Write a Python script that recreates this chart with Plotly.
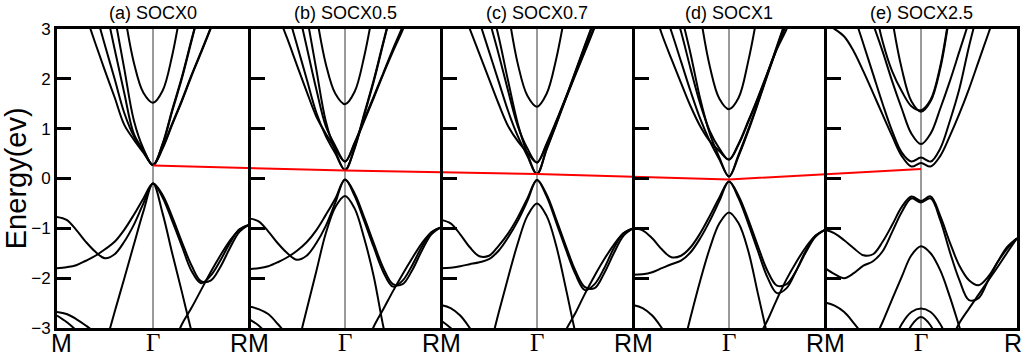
import plotly.graph_objects as go

N = None
# k-path grid inside each panel: M (0) -> Gamma (0.5) -> R (1)
K = [0.00, 0.05, 0.10, 0.15, 0.20, 0.25, 0.30, 0.35, 0.40, 0.45, 0.50,
     0.55, 0.60, 0.65, 0.70, 0.75, 0.80, 0.85, 0.90, 0.95, 1.00]

TITLES = ["(a) SOCX0", "(b) SOCX0.5", "(c) SOCX0.7", "(d) SOCX1", "(e) SOCX2.5"]
RED_E = [0.26, 0.16, 0.09, -0.02, 0.19]          # CBM marked by the red line
Y_TICKS = [-3, -2, -1, 0, 1, 2, 3]

# ---------------- panel (a) ----------------
A_C1 = [N,N,N,N,N,N,4.6,3.35,2.33,1.72,1.52,1.76,2.47,3.5,4.7,N,N,N,N,N,N]
A_C2 = [N,N,3.8,3.27,2.71,2.16,1.63,1.08,0.78,0.52,0.27,0.6,1.08,1.55,2.05,2.52,3.0,3.5,N,N,N]
A_C3 = [N,N,N,N,3.35,2.67,2.0,1.32,0.85,0.55,0.27,0.68,1.35,2.0,2.75,3.5,N,N,N,N,N]
A_C4 = [N,N,N,N,N,3.5,2.6,1.72,0.9,0.56,0.27,0.7,1.38,2.03,2.78,3.5,N,N,N,N,N]
A_C5 = [N,N,N,N,N,N,3.26,2.21,1.17,0.6,0.27,0.62,1.1,1.57,2.07,2.54,3.02,3.5,N,N,N]
A_V1 = [-0.77,-0.83,-1.03,-1.27,-1.47,-1.60,-1.52,-1.27,-0.93,-0.50,-0.10,-0.33,-0.77,-1.27,-1.74,-2.06,-2.05,-1.78,-1.40,-1.07,-0.93]
A_V2 = [-1.80,-1.78,-1.74,-1.65,-1.55,-1.42,-1.27,-1.03,-0.73,-0.40,-0.10,-0.38,-0.85,-1.35,-1.85,-2.10,-1.95,-1.65,-1.30,-1.02,-0.93]
A_V3 = [N,N,N,N,-4.0,-3.36,-2.68,-2.01,-1.33,-0.66,-0.10,-0.70,-1.50,-2.27,-3.06,-3.8,N,N,N,N,N]
A_V4 = [N,N,N,N,N,N,N,N,N,N,N,N,-3.4,-2.93,-2.6,-2.24,-1.88,-1.55,-1.25,-1.03,-0.93]
A_V5 = [-2.68,-2.72,-2.82,-2.95,-3.1,-3.3,N,N,N,N,N,N,N,N,N,N,N,N,N,N,N]
A_V6 = [-2.75,-2.88,-3.05,-3.3,N,N,N,N,N,N,N,N,N,N,N,N,N,N,N,N,N]
PANEL_A = [A_C1, A_C2, A_C3, A_C4, A_C5, A_V1, A_V2, A_V3, A_V4, A_V5, A_V6]

# ---------------- panel (b) ----------------
B_C1 = [N,N,N,N,N,N,4.5,3.3,2.3,1.7,1.49,1.74,2.45,3.45,4.6,N,N,N,N,N,N]
B_C2 = [N,N,3.85,3.3,2.8,2.27,1.75,1.25,0.9,0.6,0.34,0.7,1.15,1.62,2.1,2.55,2.98,3.45,N,N,N]
B_C3 = [N,N,N,N,3.35,2.68,2.0,1.33,0.85,0.5,0.17,0.62,1.3,1.98,2.75,3.5,N,N,N,N,N]
B_C4 = [N,N,N,N,N,3.5,2.65,1.8,1.05,0.65,0.34,0.72,1.18,1.65,2.12,2.6,3.05,3.55,N,N,N]
B_C5 = [N,N,N,N,N,N,3.28,2.2,1.15,0.55,0.17,0.6,1.27,1.95,2.72,3.48,N,N,N,N,N]
B_V1 = [-0.80,-0.86,-1.06,-1.30,-1.50,-1.63,-1.55,-1.30,-0.95,-0.48,-0.02,-0.30,-0.78,-1.30,-1.80,-2.12,-2.12,-1.84,-1.45,-1.12,-0.98]
B_V2 = [-1.82,-1.80,-1.76,-1.68,-1.58,-1.45,-1.28,-1.04,-0.73,-0.40,-0.02,-0.35,-0.85,-1.38,-1.88,-2.17,-2.05,-1.74,-1.37,-1.08,-0.98]
B_V3 = [N,N,N,N,-4.2,-3.41,-2.64,-1.87,-1.1,-0.57,-0.35,-0.6,-1.2,-1.97,-2.98,-3.8,N,N,N,N,N]
B_V4 = [N,N,N,N,N,N,N,N,N,N,N,N,-3.45,-2.97,-2.62,-2.26,-1.92,-1.6,-1.3,-1.08,-0.98]
B_V5 = [-2.57,-2.62,-2.72,-2.92,-3.15,N,N,N,N,N,N,N,N,N,N,N,N,N,N,N,N]
B_V6 = [-2.82,-2.95,-3.15,N,N,N,N,N,N,N,N,N,N,N,N,N,N,N,N,N,N]
PANEL_B = [B_C1, B_C2, B_C3, B_C4, B_C5, B_V1, B_V2, B_V3, B_V4, B_V5, B_V6]

# ---------------- panel (c) ----------------
C_C1 = [N,N,N,N,N,N,4.6,3.35,2.3,1.66,1.44,1.7,2.4,3.4,4.6,N,N,N,N,N,N]
C_C2 = [N,N,3.5,3.0,2.5,2.0,1.5,1.05,0.75,0.52,0.32,0.68,1.13,1.6,2.08,2.55,3.03,3.55,N,N,N]
C_C3 = [N,N,N,3.75,3.15,2.55,1.95,1.35,0.85,0.45,0.09,0.6,1.1,1.62,2.15,2.68,3.2,N,N,N,N]
C_C4 = [N,N,N,N,N,3.2,2.5,1.75,1.05,0.6,0.32,0.7,1.15,1.63,2.1,2.58,3.06,3.55,N,N,N]
C_C5 = [N,N,N,N,N,3.6,2.85,1.95,1.1,0.5,0.09,0.58,1.08,1.6,2.13,2.66,3.18,N,N,N,N]
C_V1 = [-0.83,-0.90,-1.12,-1.38,-1.56,-1.55,-1.35,-1.10,-0.78,-0.40,-0.03,-0.32,-0.82,-1.35,-1.85,-2.18,-2.20,-1.90,-1.50,-1.15,-1.00]
C_V2 = [-1.80,-1.79,-1.76,-1.72,-1.68,-1.62,-1.45,-1.18,-0.85,-0.45,-0.03,-0.36,-0.88,-1.42,-1.92,-2.24,-2.12,-1.80,-1.40,-1.10,-1.00]
C_V3 = [N,N,N,N,-4.1,-3.45,-2.7,-1.98,-1.3,-0.75,-0.5,-0.75,-1.35,-2.2,-3.1,-3.9,N,N,N,N,N]
C_V4 = [N,N,N,N,N,N,N,N,N,N,N,N,-3.6,-3.05,-2.7,-2.31,-1.95,-1.62,-1.33,-1.10,-1.00]
C_V5 = [-2.54,-2.60,-2.75,-3.0,-3.3,N,N,N,N,N,N,N,N,N,N,N,N,N,N,N,N]
C_V6 = [-2.85,-3.0,-3.2,N,N,N,N,N,N,N,N,N,N,N,N,N,N,N,N,N,N]
PANEL_C = [C_C1, C_C2, C_C3, C_C4, C_C5, C_V1, C_V2, C_V3, C_V4, C_V5, C_V6]

# ---------------- panel (d) ----------------
D_C1 = [N,N,N,N,N,N,4.7,3.3,2.25,1.6,1.39,1.62,2.35,3.35,4.6,N,N,N,N,N,N]
D_C2 = [N,N,3.5,2.9,2.4,1.92,1.45,1.05,0.75,0.55,0.38,0.68,1.13,1.6,2.1,2.6,3.0,3.5,N,N,N]
D_C3 = [N,N,N,3.5,2.95,2.35,1.75,1.2,0.75,0.38,0.04,0.45,0.95,1.5,2.07,2.63,3.2,N,N,N,N]
D_C4 = [N,N,N,N,3.6,2.95,2.2,1.5,0.95,0.6,0.38,0.7,1.15,1.62,2.12,2.62,3.1,3.6,N,N,N]
D_C5 = [N,N,N,N,N,3.3,2.5,1.6,0.9,0.42,0.04,0.48,0.98,1.52,2.1,2.66,3.22,N,N,N,N]
D_V1 = [-1.00,-1.04,-1.20,-1.42,-1.58,-1.55,-1.38,-1.10,-0.75,-0.38,-0.06,-0.35,-0.82,-1.35,-1.85,-2.15,-2.12,-1.85,-1.48,-1.17,-1.03]
D_V2 = [-1.93,-1.92,-1.88,-1.80,-1.72,-1.65,-1.48,-1.20,-0.85,-0.45,-0.06,-0.40,-0.90,-1.45,-1.98,-2.30,-2.20,-1.85,-1.45,-1.15,-1.03]
D_V3 = [N,N,N,N,-4.3,-3.55,-2.78,-2.05,-1.4,-0.9,-0.68,-0.9,-1.45,-2.3,-3.15,-4.0,N,N,N,N,N]
D_V4 = [N,N,N,N,N,N,N,N,N,N,N,N,N,-3.2,-2.85,-2.42,-2.02,-1.68,-1.38,-1.15,-1.03]
D_V5 = [-2.54,-2.60,-2.75,-3.0,-3.3,N,N,N,N,N,N,N,N,N,N,N,N,N,N,N,N]
PANEL_D = [D_C1, D_C2, D_C3, D_C4, D_C5, D_V1, D_V2, D_V3, D_V4, D_V5]

# ---------------- panel (e) ----------------
E_C1 = [N,N,N,N,N,N,4.6,3.2,2.2,1.55,1.34,1.55,2.2,3.3,4.5,N,N,N,N,N,N]
E_C1b = [N,N,N,N,N,3.6,2.75,2.15,1.75,1.45,1.37,1.58,2.25,3.35,4.5,N,N,N,N,N,N]
E_C2 = [N,N,N,N,3.6,3.1,2.55,1.95,1.4,0.9,0.69,0.9,1.4,1.95,2.55,3.15,N,N,N,N,N]
E_C3 = [N,N,4.0,3.3,2.7,2.1,1.5,0.95,0.52,0.34,0.42,0.34,0.6,1.15,1.8,2.65,3.4,N,N,N,N]
E_C4 = [3.1,3.0,2.85,2.55,2.15,1.72,1.28,0.85,0.45,0.24,0.31,0.24,0.45,0.85,1.3,1.8,2.35,2.9,3.45,N,N]
E_V1 = [-1.03,-1.10,-1.24,-1.40,-1.54,-1.52,-1.27,-0.93,-0.57,-0.36,-0.45,-0.36,-0.75,-1.28,-1.75,-2.04,-2.14,-1.97,-1.67,-1.40,-1.20]
E_V2 = [-1.80,-1.92,-2.00,-1.90,-1.75,-1.66,-1.46,-1.07,-0.67,-0.40,-0.48,-0.40,-0.83,-1.47,-2.04,-2.44,-2.40,-2.04,-1.67,-1.37,-1.20]
E_V3 = [N,N,N,N,-3.8,-3.3,-2.88,-2.42,-1.97,-1.54,-1.36,-1.5,-1.84,-2.37,-2.98,-3.6,N,N,N,N,N]
E_V4 = [N,N,N,N,N,N,N,N,N,N,N,N,N,-3.3,-2.9,-2.61,-2.33,-2.05,-1.77,-1.48,-1.20]
E_V5 = [-2.49,-2.55,-2.68,-2.9,-3.15,N,N,N,N,N,N,N,N,N,N,N,N,N,N,N,N]
E_A1 = [N,N,N,N,N,N,N,-3.35,-2.92,-2.68,-2.61,-2.68,-2.92,-3.35,N,N,N,N,N,N,N]
E_A2 = [N,N,N,N,N,N,N,N,-3.4,-2.95,-2.78,-2.95,-3.4,N,N,N,N,N,N,N,N]
PANEL_E = [E_C1, E_C1b, E_C2, E_C3, E_C4, E_V1, E_V2, E_V3, E_V4, E_V5, E_A1, E_A2]

PANELS = [PANEL_A, PANEL_B, PANEL_C, PANEL_D, PANEL_E]
NP = len(PANELS)

fig = go.Figure()

for i, bands in enumerate(PANELS):
    for band in bands:
        fig.add_trace(go.Scatter(
            x=[i + k for k in K], y=band, mode="lines",
            line=dict(color="black", width=2, shape="spline", smoothing=1.0),
            connectgaps=False, showlegend=False, hoverinfo="skip"))

# red line joining the conduction band minima at Gamma
fig.add_trace(go.Scatter(
    x=[i + 0.5 for i in range(NP)], y=RED_E, mode="lines",
    line=dict(color="#ff0000", width=2), showlegend=False, hoverinfo="skip"))

GAMMA = "<span style='font-family:Liberation Serif'>Γ</span>"
tickvals, ticktext = [], []
for i in range(NP + 1):
    tickvals.append(i)
    ticktext.append("M" if i == 0 else ("R" if i == NP else "RM"))
    if i < NP:
        tickvals.append(i + 0.5)
        ticktext.append(GAMMA)

axis_common = dict(range=[-3, 3], showline=True, linewidth=3, linecolor="black",
                   ticks="inside", ticklen=14, tickwidth=3, tickcolor="black",
                   tickvals=Y_TICKS, showgrid=False, zeroline=False, automargin=False)

layout = dict(
    width=1024, height=356,
    margin=dict(l=57, r=7, t=29, b=28, autoexpand=False),
    paper_bgcolor="white", plot_bgcolor="white",
    showlegend=False,
    font=dict(family="Liberation Sans, Arial, sans-serif", color="black"),
    xaxis=dict(range=[0, NP], showline=True, linewidth=3, linecolor="black",
               mirror=True, ticks="", tickvals=tickvals, showticklabels=False,
               automargin=False,
               showgrid=True, gridcolor="#9a9a9a", gridwidth=1.5, zeroline=False),
    yaxis=dict(**axis_common, mirror=True, tickfont=dict(size=17, color="black")),
)
for j in range(1, NP):
    layout[f"yaxis{j+1}"] = dict(**axis_common, overlaying="y", anchor="free",
                                 position=j / NP, side="left", showticklabels=False)
fig.update_layout(**layout)

for j in range(1, NP):
    fig.add_trace(go.Scatter(x=[None], y=[None], yaxis=f"y{j+1}", mode="lines",
                             showlegend=False, hoverinfo="skip"))

annotations = []
for i, t in enumerate(TITLES):
    annotations.append(dict(text=t, x=(i + 0.5) / NP, y=1.0535, xref="paper", yref="paper",
                            xanchor="center", yanchor="middle", showarrow=False,
                            font=dict(size=18, color="black")))
last = len(tickvals) - 1
for n, (xv, tt) in enumerate(zip(tickvals, ticktext)):
    ann = dict(text=tt, x=xv, y=-0.05, xref="x", yref="paper",
               xanchor="center", yanchor="middle", showarrow=False,
               font=dict(size=25, color="black"))
    if n == 0:
        ann["xshift"] = 4
    if n == last:
        ann["xanchor"] = "right"
        ann["xshift"] = 7
    annotations.append(ann)
annotations.append(dict(text="Energy(ev)", x=-0.043, y=0.5, xref="paper", yref="paper",
                        xanchor="center", yanchor="middle", textangle=-90, showarrow=False,
                        font=dict(size=29, color="black")))
fig.update_layout(annotations=annotations)

fig.write_html("out.html",
               config={"displayModeBar": False},
               post_script="document.body.style.margin='0';"
                           "document.body.style.overflow='hidden';")
